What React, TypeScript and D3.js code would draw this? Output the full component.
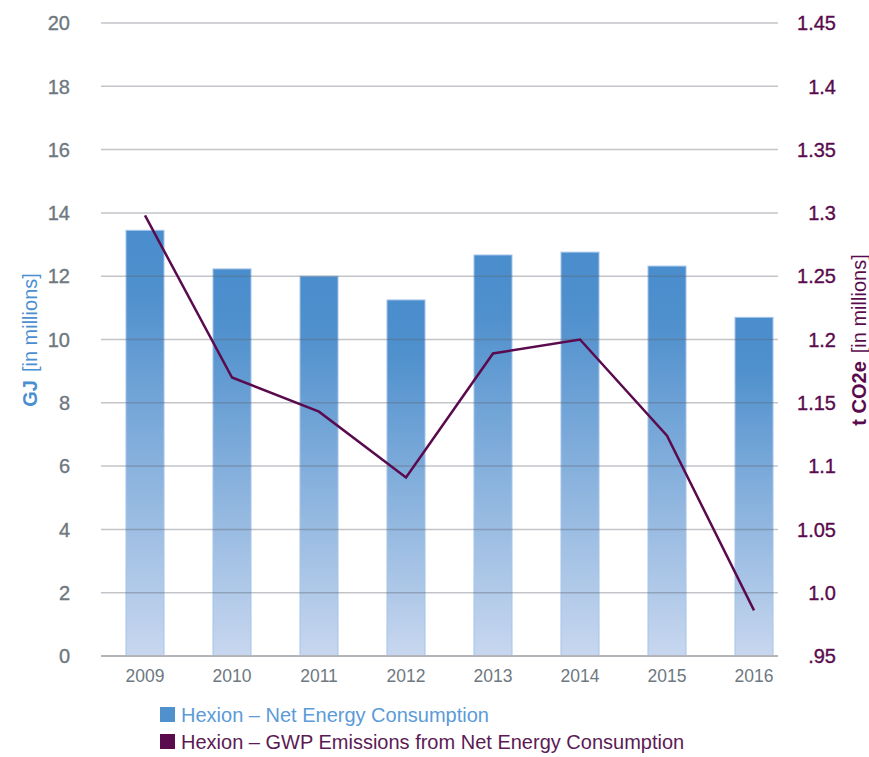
import * as d3 from 'd3'

const years = ['2009', '2010', '2011', '2012', '2013', '2014', '2015', '2016']
// GJ, in millions
const energy = [13.45, 12.23, 12.0, 11.25, 12.67, 12.76, 12.32, 10.7]
// t CO2e, in millions
const emissions = [1.298, 1.17, 1.143, 1.091, 1.189, 1.2, 1.124, 0.986]
const leftTicks = [0, 2, 4, 6, 8, 10, 12, 14, 16, 18, 20]
const rightTicks = [0.95, 1.0, 1.05, 1.1, 1.15, 1.2, 1.25, 1.3, 1.35, 1.4, 1.45]
const rightLabels = ['.95', '1.0', '1.05', '1.1', '1.15', '1.2', '1.25', '1.3', '1.35', '1.4', '1.45']
const legendLabels = [
  'Hexion – Net Energy Consumption',
  'Hexion – GWP Emissions from Net Energy Consumption',
]

const WIDTH = 869
const HEIGHT = 757
const TOP = 23
const BOTTOM = 656
const GRID_LEFT = 101
const GRID_RIGHT = 778
const FONT = "'Liberation Sans', Arial, sans-serif"
const GREY = '#6e7880'
const BLUE = '#4f90cd'
const PURPLE = '#5a0b4e'

export default function App() {
  const x = d3.scaleBand()
    .domain(years)
    .range([101.5, 797.5])
    .paddingInner(0.563)
    .paddingOuter(0.2815)

  const y = d3.scaleLinear().domain([0, 20]).range([BOTTOM, TOP])
  const y2 = d3.scaleLinear().domain([0.95, 1.45]).range([BOTTOM, TOP])

  const line = d3.line<number>()
    .x((d, i) => (x(years[i]) as number) + x.bandwidth() / 2)
    .y(d => y2(d))

  return (
    <svg width={WIDTH} height={HEIGHT} style={{ position: 'absolute', left: 0, top: 0, fontFamily: FONT }}>
      <defs>
        <linearGradient id="barGrad" x1="0" y1="0" x2="0" y2="1">
          <stop offset="0" stopColor="#4a8dcd" />
          <stop offset="0.15" stopColor="#4f90cd" />
          <stop offset="1" stopColor="#c8d7ef" />
        </linearGradient>
      </defs>

      {/* bars */}
      <g>
        {energy.map((v, i) => (
          <rect
            key={years[i]}
            x={x(years[i])}
            y={y(v)}
            width={x.bandwidth()}
            height={y(0) - y(v)}
            fill="url(#barGrad)"
            stroke="#a6c4e8"
            strokeWidth={1}
          />
        ))}
      </g>

      {/* gridlines, drawn over the bars */}
      <g>
        {leftTicks.slice(1).map(t => (
          <line key={t} x1={GRID_LEFT} x2={GRID_RIGHT} y1={y(t)} y2={y(t)}
            stroke="#5f6470" strokeOpacity={0.38} strokeWidth={1.5} />
        ))}
        <line x1={GRID_LEFT} x2={GRID_RIGHT} y1={y(0)} y2={y(0)} stroke="#b4b5ba" strokeWidth={2} />
      </g>

      {/* left axis labels */}
      <g fontSize={20} fill={GREY} stroke={GREY} strokeWidth={0.35} textAnchor="end">
        {leftTicks.map(t => (
          <text key={t} x={70} y={y(t)} dy="0.36em">{t}</text>
        ))}
      </g>

      {/* right axis labels */}
      <g fontSize={20} fill={PURPLE} stroke={PURPLE} strokeWidth={0.35} textAnchor="end">
        {rightTicks.map((t, i) => (
          <text key={t} x={836} y={y2(t)} dy="0.36em">{rightLabels[i]}</text>
        ))}
      </g>

      {/* x labels */}
      <g fontSize={17.5} fill={GREY} textAnchor="middle">
        {years.map(yr => (
          <text key={yr} x={(x(yr) as number) + x.bandwidth() / 2} y={682}>{yr}</text>
        ))}
      </g>

      {/* emissions line */}
      <path d={line(emissions) as string} fill="none" stroke={PURPLE} strokeWidth={2.5} />

      {/* axis titles */}
      <text transform="translate(37,340) rotate(-90)" textAnchor="middle" fontSize={20} fill="#4a90d0">
        <tspan fontWeight="bold">GJ</tspan>
        <tspan dx={8}>[in millions]</tspan>
      </text>
      <text transform="translate(866,340) rotate(-90)" textAnchor="middle" fontSize={20} fill={PURPLE}>
        <tspan fontWeight="bold">t CO2e</tspan>
        <tspan dx={8}>[in millions]</tspan>
      </text>

      {/* legend */}
      <g fontSize={20}>
        <rect x={160} y={707} width={15} height={15} fill={BLUE} />
        <text x={181} y={722} fill="#5b9bd8">{legendLabels[0]}</text>
        <rect x={160} y={734} width={15} height={15} fill={PURPLE} />
        <text x={181} y={749} fill="#5c1a55">{legendLabels[1]}</text>
      </g>
    </svg>
  )
}
